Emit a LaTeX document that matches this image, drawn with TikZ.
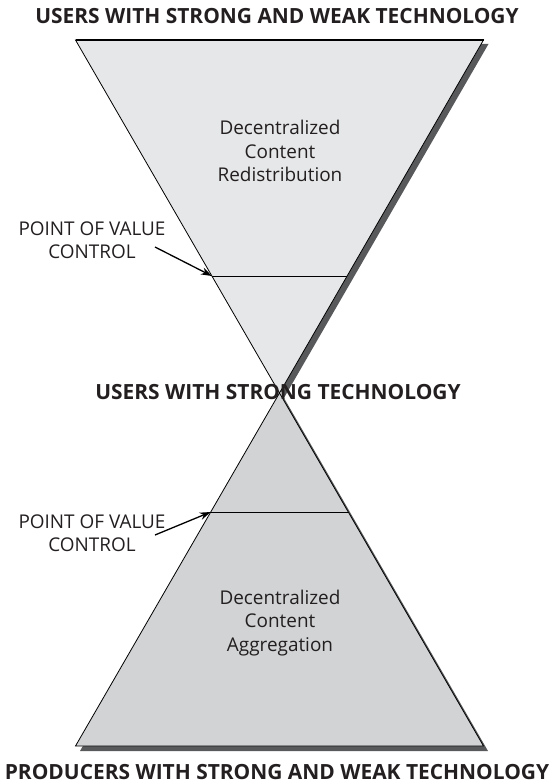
\documentclass[tikz,border=0pt]{standalone}
\usepackage{fontspec}
\setmainfont{Open Sans}
\usetikzlibrary{arrows.meta}
\definecolor{topfill}{HTML}{E6E7E8}
\definecolor{botfill}{HTML}{D1D3D4}
\definecolor{shadowgray}{HTML}{58595B}
\definecolor{ink}{HTML}{231F20}
\begin{document}
\begin{tikzpicture}[x=1bp,y=-1bp,
  title/.style={font=\fontsize{21}{25}\selectfont\bfseries, text=ink, inner sep=0pt},
  body/.style={font=\fontsize{19}{23.5}\selectfont, text=ink, align=center, inner sep=0pt},
  edge/.style={draw=black, line width=0.8bp, line join=miter},
  cut/.style={draw=black, line width=0.7bp},
  ptr/.style={draw=black, line width=1.3bp, -{Stealth[length=11bp,width=7.5bp]}}]
\useasboundingbox (0,0) rectangle (554,784);
% geometry
\coordinate (TL) at (75.5,40);
\coordinate (TR) at (483.5,40);
\coordinate (AP) at (279.5,393);
\coordinate (BL) at (75.5,746);
\coordinate (BR) at (483.5,746);
\coordinate (V1L) at (211.9,276);
\coordinate (V1R) at (347.1,276);
\coordinate (V2L) at (210.7,512);
\coordinate (V2R) at (348.3,512);
% shadows
\fill[shadowgray] ([shift={(5,4)}]TL) -- ([shift={(5,4)}]TR) -- ([shift={(5,4)}]AP) -- cycle;
\fill[shadowgray] ([shift={(4.5,5)}]AP) -- ([shift={(4.5,5)}]BR) -- ([shift={(4.5,5)}]BL) -- cycle;
% triangles
\filldraw[edge, fill=botfill] (AP) -- (BR) -- (BL) -- cycle;
\filldraw[edge, fill=topfill] (TL) -- (TR) -- (AP) -- cycle;
\draw[line width=1.2bp] (TL) -- (TR);
% value-control lines
\draw[cut] (V1L) -- (V1R);
\draw[cut] (V2L) -- (V2R);
% titles
\node[title] (t1) at (277,16) {USERS WITH STRONG AND WEAK TECHNOLOGY};
\node[title] (t2) at (278,392) {USERS WITH STRONG TECHNOLOGY};
\node[title] (t3) at (277,772) {PRODUCERS WITH STRONG AND WEAK TECHNOLOGY};
% body texts
\node[body] (red) at (280,151) {Decentralized\\Content\\Redistribution};
\node[body] (agg) at (280,623) {Decentralized\\Content\\Aggregation};
% point of value control labels
\node[body] (p1) at (92,240) {POINT OF VALUE\\CONTROL};
\node[body] (p2) at (92,533) {POINT OF VALUE\\CONTROL};
\coordinate (a1) at (155,247);
\coordinate (a2) at (155,535);
\draw[ptr] (a1) -- (V1L);
\draw[ptr] (a2) -- (V2L);
\end{tikzpicture}
\end{document}
